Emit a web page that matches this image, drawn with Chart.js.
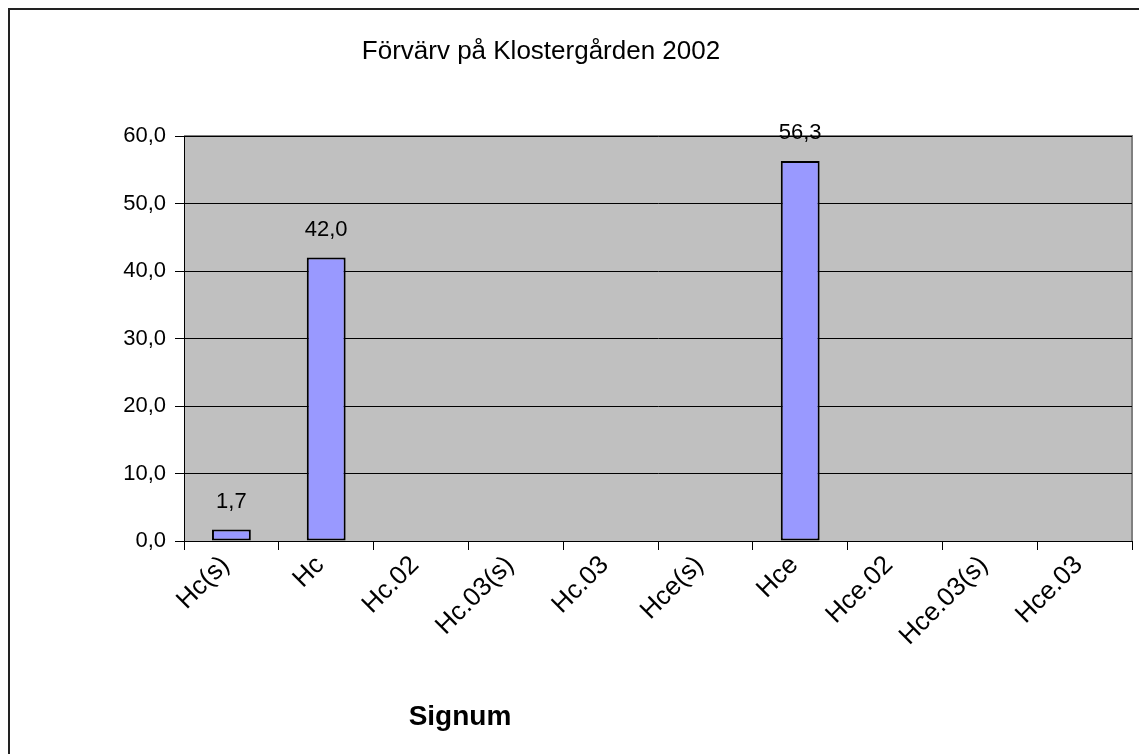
<!DOCTYPE html>
<html>
<head>
<meta charset="utf-8">
<script src="https://cdn.jsdelivr.net/npm/chart.js@4"></script>
<style>
  html, body { margin: 0; padding: 0; background: #fff; }
  #wrap { width: 1139px; height: 754px; }
</style>
</head>
<body>
<div id="wrap"><canvas id="chart" width="1139" height="754"></canvas></div>
<script>
const chartTitle = 'Förvärv på Klostergården 2002';
const axisTitle = 'Signum';
const categories = ['Hc(s)', 'Hc', 'Hc.02', 'Hc.03(s)', 'Hc.03', 'Hce(s)', 'Hce', 'Hce.02', 'Hce.03(s)', 'Hce.03'];
const values = [1.7, 42.0, null, null, null, null, 56.3, null, null, null];
const yMin = 0, yMax = 60, yStep = 10;

const fmt = v => v.toFixed(1).replace('.', ',');
const FONT = '"Liberation Sans", Arial, sans-serif';

// grå plotyta, ram och texter
const decor = {
  id: 'decor',
  beforeDraw(chart) {
    const { ctx, chartArea: a } = chart;
    ctx.save();
    ctx.fillStyle = '#fff';
    ctx.fillRect(0, 0, chart.width, chart.height);
    ctx.fillStyle = '#222';
    ctx.fillRect(8, 8, chart.width, 2);
    ctx.fillRect(8, 8, 2, chart.height);
    ctx.fillStyle = '#C0C0C0';
    ctx.fillRect(a.left, a.top, a.right - a.left, a.bottom - a.top);
    ctx.strokeStyle = '#808080';
    ctx.lineWidth = 2;
    ctx.beginPath();
    ctx.moveTo(a.left, a.top);
    ctx.lineTo(a.right, a.top);
    ctx.lineTo(a.right, a.bottom);
    ctx.stroke();
    ctx.restore();
  },
  afterDatasetsDraw(chart) {
    const { ctx } = chart;
    ctx.save();
    ctx.fillStyle = '#000';
    ctx.textAlign = 'center';
    ctx.textBaseline = 'middle';
    ctx.font = '22px ' + FONT;
    chart.getDatasetMeta(0).data.forEach((bar, i) => {
      if (values[i] == null) return;
      ctx.fillText(fmt(values[i]), bar.x, bar.y - 28);
    });
    ctx.font = '26px ' + FONT;
    ctx.fillText(chartTitle, 541, 52);
    ctx.font = 'bold 28px ' + FONT;
    ctx.fillText(axisTitle, 460, 717);
    ctx.restore();
  }
};

new Chart(document.getElementById('chart'), {
  type: 'bar',
  data: {
    labels: categories,
    datasets: [{
      data: values,
      backgroundColor: '#9999FF',
      borderColor: '#000',
      borderWidth: 2,
      borderSkipped: false,
      barPercentage: 0.41,
      categoryPercentage: 1
    }]
  },
  options: {
    responsive: false,
    animation: false,
    layout: { padding: { top: 136, left: 0, right: 7, bottom: 0 } },
    plugins: {
      legend: { display: false },
      title: { display: false },
      tooltip: { enabled: false }
    },
    scales: {
      x: {
        grid: { offset: true, drawOnChartArea: false, drawTicks: true, tickLength: 9, color: '#000', lineWidth: 1 },
        border: { color: '#000', width: 1 },
        ticks: { color: '#000', font: { family: FONT, size: 26 }, minRotation: 45, maxRotation: 45, padding: 0, labelOffset: -6 },
        afterFit(scale) { scale.height = 213; }
      },
      y: {
        min: yMin,
        max: yMax,
        grid: { color: '#000', lineWidth: 1, tickLength: 9 },
        border: { color: '#000', width: 1 },
        ticks: { stepSize: yStep, color: '#000', padding: 9, font: { family: FONT, size: 22 }, callback: v => fmt(v) },
        afterFit(scale) { scale.width = 184; }
      }
    }
  },
  plugins: [decor]
});
</script>
</body>
</html>
